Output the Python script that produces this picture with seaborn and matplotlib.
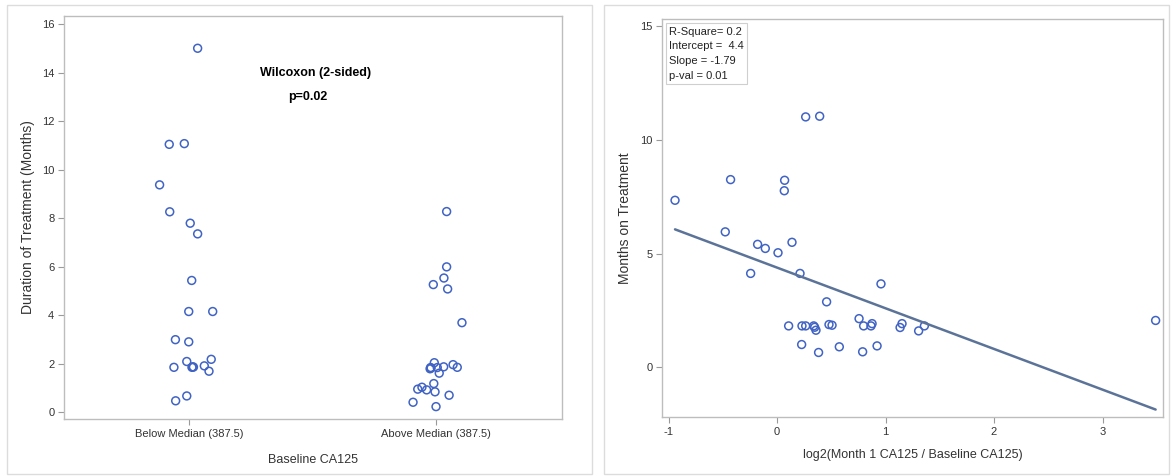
import matplotlib
matplotlib.use("Agg")
import matplotlib.pyplot as plt
import seaborn as sns
import numpy as np
import pandas as pd
from matplotlib.patches import Rectangle

# ---------------- data ----------------
groups = ["Below Median (387.5)", "Above Median (387.5)"]

below_months = [15.0, 11.04, 11.07, 9.37, 8.26, 7.79, 7.35, 5.43, 4.15, 4.15,
                2.99, 2.90, 2.09, 2.18, 1.85, 1.87, 1.86, 1.85, 1.91, 1.69,
                0.67, 0.47]
below_jitter = [0.035, -0.080, -0.019, -0.119, -0.078, 0.005, 0.035, 0.011, -0.001, 0.096,
                -0.055, -0.001, -0.009, 0.090, -0.061, 0.015, 0.018, 0.012, 0.062, 0.081,
                -0.009, -0.054]

above_months = [8.27, 5.99, 5.53, 5.26, 5.08, 3.69, 2.04, 1.84, 1.79, 1.82,
                1.84, 1.61, 1.87, 1.96, 1.85, 1.18, 0.95, 1.03, 0.92, 0.84,
                0.70, 0.41, 0.23]
above_jitter = [0.043, 0.043, 0.032, -0.011, 0.047, 0.105, -0.007, -0.022, -0.024, -0.020,
                0.005, 0.013, 0.031, 0.069, 0.086, -0.009, -0.074, -0.057, -0.038, -0.004,
                0.053, -0.093, 0.000]

wilcoxon_label = "Wilcoxon (2-sided)"
wilcoxon_p = "p=0.02"

log2_ratio = [-0.940, -0.428, -0.477, -0.179, -0.108, 0.009, 0.138, -0.243, 0.070, 0.067,
              0.264, 0.393, 0.212, 0.457, 0.958, 0.107, 0.230, 0.264, 0.338, 0.347,
              0.359, 0.479, 0.507, 0.756, 0.798, 0.866, 0.876, 1.134, 1.152, 1.305,
              1.358, 0.227, 0.383, 0.574, 0.789, 0.922, 3.489]
months_on_tx = [7.35, 8.26, 5.96, 5.41, 5.23, 5.04, 5.50, 4.13, 8.23, 7.77,
                11.02, 11.05, 4.13, 2.88, 3.67, 1.82, 1.82, 1.82, 1.82, 1.76,
                1.63, 1.88, 1.85, 2.14, 1.82, 1.82, 1.92, 1.75, 1.92, 1.60,
                1.82, 1.00, 0.65, 0.90, 0.68, 0.94, 2.06]

stats_lines = ["R-Square= 0.2", "Intercept =  4.4", "Slope = -1.79", "p-val = 0.01"]

# ---------------- style ----------------
sns.set_theme(style="white")
plt.rcParams["font.family"] = ["Liberation Sans", "DejaVu Sans"]
plt.rcParams["axes.unicode_minus"] = False

marker_color = "#4063c4"
line_color = "#5b7398"
spine_color = "#bdbdbd"
text_color = "#333333"

W, H = 1171, 476
fig = plt.figure(figsize=(W / 100, H / 100), dpi=100)

# panel borders
for (x0, y0, x1, y1) in [(7, 5, 592, 474), (604, 5, 1169, 474)]:
    fig.patches.append(Rectangle((x0 / W, 1 - y1 / H), (x1 - x0) / W, (y1 - y0) / H,
                                 transform=fig.transFigure, fill=False,
                                 edgecolor="#dcdcdc", linewidth=1.0))

ax1 = fig.add_axes([64 / W, 1 - 419 / H, 498 / W, 403 / H])
ax2 = fig.add_axes([662 / W, 1 - 417 / H, 501 / W, 398 / H])

# ---------------- left panel ----------------
df_left = pd.DataFrame({
    "pos": [0 + j for j in below_jitter] + [1 + j for j in above_jitter],
    "months": below_months + above_months,
})
sns.scatterplot(data=df_left, x="pos", y="months", ax=ax1, marker="o", s=32,
                facecolors="none", edgecolor=marker_color, linewidth=1.1, legend=False)
ax1.set_xlim(-0.506, 1.51)
ax1.set_ylim(-0.28, 16.33)
ax1.set_xticks([0, 1])
ax1.set_xticklabels(groups)
ax1.set_yticks(np.arange(0, 17, 2))
ax1.set_xlabel("Baseline CA125", fontsize=9, color=text_color, labelpad=11)
ax1.set_ylabel("Duration of Treatment (Months)", fontsize=10, color=text_color, labelpad=5)
ax1.text(0.514, 13.98, wilcoxon_label, ha="center", va="center", fontsize=9,
         fontweight="bold", color="black")
ax1.text(0.48, 12.99, wilcoxon_p, ha="center", va="center", fontsize=9,
         fontweight="bold", color="black")

# ---------------- right panel ----------------
df_right = pd.DataFrame({"x": log2_ratio, "y": months_on_tx})
sns.regplot(data=df_right, x="x", y="y", ax=ax2, ci=None,
            scatter_kws=dict(marker="o", s=32, facecolors="none",
                             edgecolors=marker_color, linewidths=1.1, alpha=1),
            line_kws=dict(color=line_color, linewidth=1.8))
ax2.set_xlim(-1.06, 3.557)
ax2.set_ylim(-2.19, 15.33)
ax2.set_xticks([-1, 0, 1, 2, 3])
ax2.set_yticks([0, 5, 10, 15])
ax2.set_xlabel("log2(Month 1 CA125 / Baseline CA125)", fontsize=9, color=text_color, labelpad=9)
ax2.set_ylabel("Months on Treatment", fontsize=10, color=text_color, labelpad=6)
ax2.text(0.014, 0.981, "\n".join(stats_lines), transform=ax2.transAxes,
         ha="left", va="top", fontsize=8, color="#222222", linespacing=1.6,
         bbox=dict(boxstyle="square,pad=0.3", facecolor="white", edgecolor="#cfcfcf",
                   linewidth=0.8))

for ax in (ax1, ax2):
    for sp in ax.spines.values():
        sp.set_color(spine_color)
        sp.set_linewidth(1.0)
    ax.tick_params(axis="both", which="both", direction="out", length=4, width=0.8,
                   color="#9a9a9a", labelsize=8, labelcolor=text_color, pad=3,
                   bottom=True, left=True, top=False, right=False)
    ax.grid(False)

fig.savefig("out.png", dpi=100)
